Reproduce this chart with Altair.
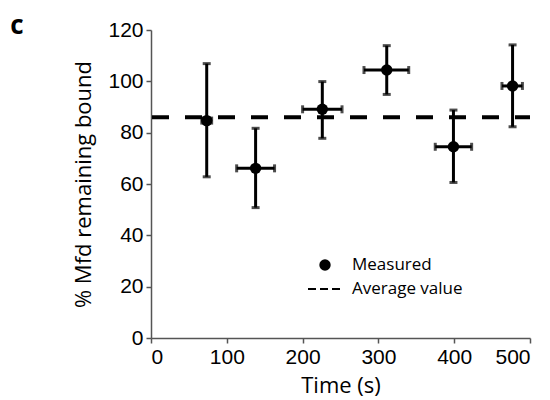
import altair as alt
import pandas as pd

times = [73.5, 138, 226, 311, 399, 477]
values = [84.7, 66.1, 89.1, 104.4, 74.5, 98.2]
y_low = [62.8, 50.8, 77.8, 94.9, 60.6, 82.3]
y_high = [106.9, 81.7, 99.9, 113.9, 88.8, 114.2]
x_low = [67, 113, 200, 281, 375, 463]
x_high = [80, 163, 252, 340, 423, 490]
average = [86.0]
legend_labels = ["Measured", "Average value"]
panel_label = ["c"]

df = pd.DataFrame({"t": times, "v": values, "ylo": y_low, "yhi": y_high,
                   "xlo": x_low, "xhi": x_high})

xscale = alt.Scale(domain=[0, 500], nice=False, zero=False)
yscale = alt.Scale(domain=[0, 120], nice=False)

xaxis = alt.Axis(title="Time (s)", values=list(range(0, 501, 50)),
                 labelExpr="datum.value % 100 === 0 ? datum.label : ''",
                 tickSize={"condition": {"test": "datum.value % 100 === 0", "value": 5}, "value": 2},
                 labelPadding=3, titlePadding=8)
yaxis = alt.Axis(title="% Mfd remaining bound", values=list(range(0, 121, 10)),
                 labelExpr="datum.value % 20 === 0 ? datum.label : ''",
                 tickSize={"condition": {"test": "datum.value % 20 === 0", "value": 5}, "value": 2},
                 labelPadding=3, titlePadding=12)

base = alt.Chart(df)

vbars = base.mark_rule(color="black", strokeWidth=3).encode(
    x=alt.X("t:Q", scale=xscale, axis=xaxis),
    y=alt.Y("ylo:Q", scale=yscale, axis=yaxis),
    y2="yhi:Q",
)
hbars = base.mark_rule(color="black", strokeWidth=3).encode(
    x=alt.X("xlo:Q", scale=xscale), x2="xhi:Q",
    y=alt.Y("v:Q", scale=yscale),
)
vcap_lo = base.mark_tick(color="black", orient="horizontal", size=8, thickness=3).encode(
    x=alt.X("t:Q", scale=xscale), y=alt.Y("ylo:Q", scale=yscale))
vcap_hi = base.mark_tick(color="black", orient="horizontal", size=8, thickness=3).encode(
    x=alt.X("t:Q", scale=xscale), y=alt.Y("yhi:Q", scale=yscale))
hcap_lo = base.mark_tick(color="black", orient="vertical", size=8, thickness=3).encode(
    x=alt.X("xlo:Q", scale=xscale), y=alt.Y("v:Q", scale=yscale))
hcap_hi = base.mark_tick(color="black", orient="vertical", size=8, thickness=3).encode(
    x=alt.X("xhi:Q", scale=xscale), y=alt.Y("v:Q", scale=yscale))
points = base.mark_point(filled=True, color="black", opacity=1, size=130, shape="circle").encode(
    x=alt.X("t:Q", scale=xscale), y=alt.Y("v:Q", scale=yscale))

avg = alt.Chart(pd.DataFrame({"a": average})).mark_rule(
    color="black", strokeWidth=4, strokeDash=[17, 16]).encode(
    y=alt.Y("a:Q", scale=yscale), x=alt.value(1), x2=alt.value(379))

leg_point = alt.Chart(pd.DataFrame({"l": legend_labels[:1]})).mark_point(
    filled=True, color="black", opacity=1, size=130, shape="circle").encode(
    x=alt.value(174), y=alt.value(235))
leg_line = alt.Chart(pd.DataFrame({"l": legend_labels[1:]})).mark_rule(
    color="black", strokeWidth=2, strokeDash=[8, 4]).encode(
    x=alt.value(157), x2=alt.value(190), y=alt.value(259))
leg_text1 = alt.Chart(pd.DataFrame({"l": legend_labels[:1]})).mark_text(
    align="left", baseline="middle", font="Open Sans", fontSize=17, color="black").encode(
    x=alt.value(201), y=alt.value(235), text="l:N")
leg_text2 = alt.Chart(pd.DataFrame({"l": legend_labels[1:]})).mark_text(
    align="left", baseline="middle", font="Open Sans", fontSize=17, color="black").encode(
    x=alt.value(201), y=alt.value(259), text="l:N")
label_c = alt.Chart(pd.DataFrame({"l": panel_label})).mark_text(
    align="center", baseline="alphabetic", font="Open Sans", fontSize=26, fontWeight="bold",
    color="black").encode(x=alt.value(-134), y=alt.value(4), text="l:N")

chart = alt.layer(vbars, hbars, vcap_lo, vcap_hi, hcap_lo, hcap_hi, points, avg,
                  leg_point, leg_line, leg_text1, leg_text2, label_c).properties(
    width=379, height=308, autosize="none",
    padding={"left": 143, "top": 22, "right": 12, "bottom": 60},
).configure_view(stroke=None).configure_axis(
    grid=False, domainColor="#555555", domainWidth=1.5, tickColor="#555555", tickWidth=1.5,
    labelFont="Liberation Sans", labelFontSize=21, labelColor="black",
    titleFont="Open Sans", titleFontSize=22, titleFontWeight="normal", titleColor="black",
)

chart.save("out.html", embed_options={"renderer": "svg", "actions": False})
